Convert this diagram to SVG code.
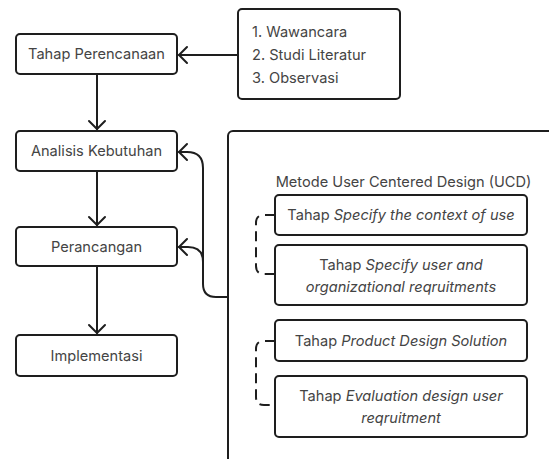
<svg xmlns="http://www.w3.org/2000/svg" width="549" height="459" viewBox="0 0 549 459">
<defs>
<style>
.box{fill:#fff;stroke:#1e1e1e;stroke-width:2}
.t{font-family:Inter,"Liberation Sans",sans-serif;font-size:14.6px;fill:#444;text-anchor:middle;dominant-baseline:central}
.tl{font-family:Inter,"Liberation Sans",sans-serif;font-size:14.6px;fill:#444;dominant-baseline:central}
.ln{fill:none;stroke:#1e1e1e;stroke-width:2;stroke-linecap:round;stroke-linejoin:round}
.dash{fill:none;stroke:#1e1e1e;stroke-width:2;stroke-dasharray:10 6}
</style>
<marker id="arr" viewBox="0 0 12 20" refX="10" refY="10" markerWidth="12" markerHeight="20" markerUnits="userSpaceOnUse" orient="auto">
<path d="M2,2 L10,10 L2,18" fill="none" stroke="#1e1e1e" stroke-width="2" stroke-linecap="round" stroke-linejoin="round"/>
</marker>
</defs>
<rect width="549" height="459" fill="#fff"/>
<g id="ucd">
<rect class="box" x="228" y="131" width="340" height="340" rx="5"/>
<text class="t" x="403.5" y="182">Metode User Centered Design (UCD)</text>
</g>
<g id="n1"><rect class="box" x="16" y="34" width="161" height="40" rx="4"/><text class="t" x="96.5" y="54">Tahap Perencanaan</text></g>
<g id="n2"><rect class="box" x="16" y="131" width="161" height="40" rx="4"/><text class="t" x="96.5" y="151">Analisis Kebutuhan</text></g>
<g id="n3"><rect class="box" x="16" y="227" width="161" height="39" rx="4"/><text class="t" x="96.5" y="246.5">Perancangan</text></g>
<g id="n4"><rect class="box" x="16" y="335" width="161" height="41" rx="4"/><text class="t" x="96.5" y="355.5">Implementasi</text></g>
<g id="list"><rect class="box" x="238" y="9" width="162" height="90" rx="4"/>
<text class="tl" x="252" y="32">1. Wawancara</text>
<text class="tl" x="252" y="55">2. Studi Literatur</text>
<text class="tl" x="252" y="78">3. Observasi</text></g>
<g id="u1"><rect class="box" x="275" y="195" width="252" height="40" rx="4"/><text class="t" x="401" y="215">Tahap <tspan font-style="italic">Specify the context of use</tspan></text></g>
<g id="u2"><rect class="box" x="275" y="245" width="252" height="60" rx="4"/><text class="t" x="401" y="265">Tahap <tspan font-style="italic">Specify user and</tspan></text><text class="t" x="401" y="287" font-style="italic">organizational reqruitments</text></g>
<g id="u3"><rect class="box" x="275" y="320" width="252" height="41" rx="4"/><text class="t" x="401" y="341">Tahap <tspan font-style="italic">Product Design Solution</tspan></text></g>
<g id="u4"><rect class="box" x="275" y="376" width="252" height="61" rx="4"/><text class="t" x="401" y="396">Tahap <tspan font-style="italic">Evaluation design user</tspan></text><text class="t" x="401" y="418" font-style="italic">reqruitment</text></g>
<g id="connectors">
<path class="ln" d="M238,55 H179" marker-end="url(#arr)"/>
<path class="ln" d="M97,74 V129" marker-end="url(#arr)"/>
<path class="ln" d="M97,171 V225" marker-end="url(#arr)"/>
<path class="ln" d="M97,266 V333" marker-end="url(#arr)"/>
<path class="ln" d="M228,297 H216 Q203,297 203,284 V168 Q203,152 187,152 H179" marker-end="url(#arr)"/>
<path class="ln" d="M203,262 Q203,247 188,247 H179" marker-end="url(#arr)"/>
<path class="dash" d="M275,215 H264 Q256,215 256,223 V266 Q256,274 264,274 H275"/>
<path class="dash" d="M275,341 H264 Q256,341 256,349 V397 Q256,405 264,405 H275"/>
</g>
</svg>
